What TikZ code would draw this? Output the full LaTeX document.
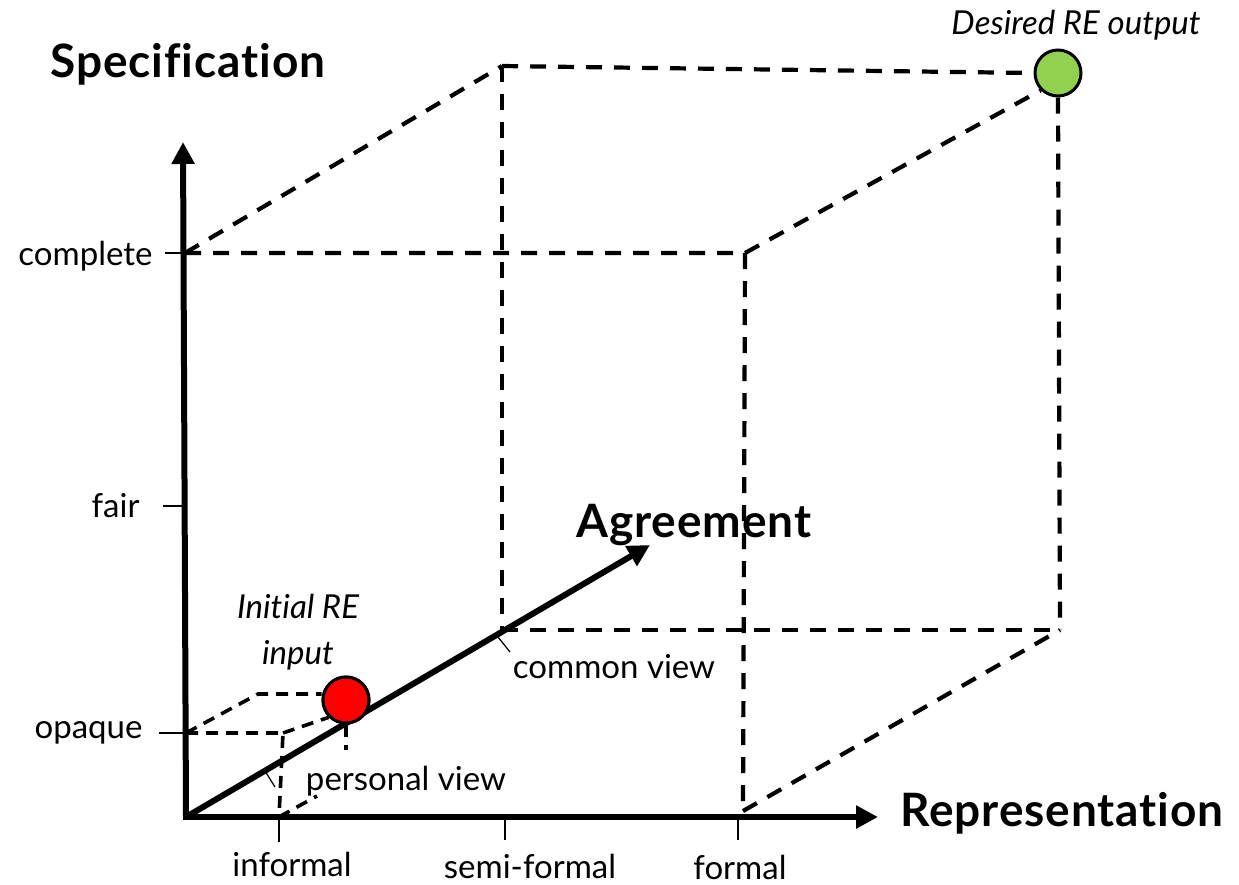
\documentclass[tikz,border=0pt]{standalone}
\usepackage{fontspec}
\setmainfont{Lato}[Ligatures=NoCommon]
\usetikzlibrary{arrows.meta}
\definecolor{startred}{RGB}{255,0,0}
\definecolor{goalgreen}{RGB}{146,208,80}
\begin{document}
\begin{tikzpicture}[x=1pt,y=-1pt,
  axis/.style={line width=6pt,-{Triangle[length=22pt,width=22pt]}},
  cubeedge/.style={line width=4.2pt,dash pattern=on 16pt off 12pt},
  smalledge/.style={line width=3.6pt,dash pattern=on 12pt off 8pt},
  tickmark/.style={line width=1.4pt},
  pointer/.style={line width=1.2pt},
  axislabel/.style={font=\fontsize{46}{50}\selectfont\bfseries\addfontfeature{LetterSpace=2}},
  scalelabel/.style={font=\fontsize{33}{36}\selectfont},
  notelabel/.style={font=\fontsize{33}{46}\selectfont\itshape,align=center},
  marker/.style={circle,draw=black,line width=3pt,minimum size=46pt,inner sep=0pt}]
\useasboundingbox (0,0) rectangle (1239,884);

% axes corners
\coordinate (O) at (186,817);
\coordinate (Ytip) at (183,142);
\coordinate (Xtip) at (878,817);
\coordinate (Atip) at (650,545);

% large cube, front face
\coordinate (Fc) at (185,253);
\coordinate (Ftr) at (745,253);
\coordinate (Fbr) at (743,811);
% large cube, back face
\coordinate (Btl) at (502,66);
\coordinate (Btr) at (1060,66);
\coordinate (Bbr) at (1060,630);
\coordinate (Bbl) at (502,630);

% small cube
\coordinate (So) at (186,733);
\coordinate (Sr) at (283,733);
\coordinate (Sb) at (279,817);
\coordinate (Sbt) at (317,796);
\coordinate (Sbk) at (258,694);
\coordinate (Sv) at (346,750);

\node[marker,fill=startred] (start) at (346,700) {};
\node[marker,fill=goalgreen] (goal) at (1058,73) {};

% dashed edges of the large cube
\draw[cubeedge] (Fc) -- (Ftr) -- (Fbr);
\draw[cubeedge] (Fc) -- (Btl);
\draw[cubeedge] (Btl) -- (goal.west);
\draw[cubeedge] (Btl) -- (Bbl);
\draw[cubeedge] (Bbl) -- (Bbr);
\draw[cubeedge] (goal.south) -- (Bbr);
\draw[cubeedge] (Ftr) -- (goal.south west);
\draw[cubeedge] (Fbr) -- (Bbr);

% dashed edges of the small cube
\draw[smalledge] (So) -- (Sr) -- (Sb);
\draw[smalledge] (So) -- (Sbk) -- (Sbk -| start.west);
\draw[smalledge] (Sr) -- (start.south west);
\draw[smalledge] (start.south) -- (Sv);
\draw[smalledge] (Sb) -- (Sbt);

% axes
\draw[axis] (O) -- (Ytip);
\draw[axis] ([xshift=-3pt]O) -- (Xtip);
\draw[axis] (O) -- (Atip);
\node[marker,fill=startred] at (start) {};

% ticks on the vertical axis
\coordinate (tc) at (165,253);
\coordinate (tf) at (163,506);
\coordinate (to) at (159,733);
\draw[tickmark] (tc) -- (Fc);
\draw[tickmark] (tf) -- ++(20,0);
\draw[tickmark] (to) -- (So);
% ticks on the horizontal axis
\draw[tickmark] (Sb) -- ++(0,25);
\draw[tickmark] (505,817) -- ++(0,23);
\draw[tickmark] (738,817) -- ++(0,23);

% scale labels
\node[scalelabel,anchor=east] (lcomplete) at (156,256) {complete};
\node[scalelabel,anchor=east] (lfair) at (143,506) {fair};
\node[scalelabel,anchor=east] (lopaque) at (146,733) {opaque};
\node[scalelabel] (linformal) at (292,864) {informal};
\node[scalelabel] (lsemi) at (530,866) {semi-formal};
\node[scalelabel] (lformal) at (740,867) {formal};

% view labels with pointers
\node[scalelabel] (lpersonal) at (406,781) {personal view};
\node[scalelabel] (lcommon) at (614,667) {common view};
\draw[pointer] (265,771) -- (275,787);
\draw[pointer] (498,637) -- (510,652);

% axis titles
\node[axislabel] (tspec) at (188,64) {Specification};
\node[axislabel] (tagree) at (694,525) {Agreement};
\node[axislabel] (trep) at (1062,813) {Representation};

% notes
\node[notelabel] (ninit) at (298,632) {Initial RE\\input};
\node[notelabel] (ngoal) at (1076,25) {Desired RE output};
\end{tikzpicture}
\end{document}
